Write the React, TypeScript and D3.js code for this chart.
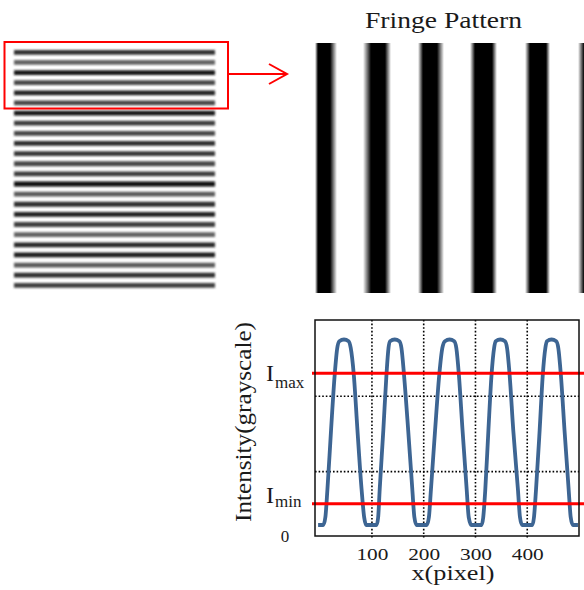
import React, { useEffect, useRef } from "react";
import * as d3 from "d3";

// left panel: grey level of each horizontal line (0 = black)
const lineGray = [50, 100, 25, 70, 35, 70, 25, 60, 70, 45, 55, 70, 60, 10, 90, 45, 35, 65, 100, 40, 30, 90, 45, 65];

// fringe pattern: bar edges in image pixels [fade-in start, core start, core end, fade-out end]
const fringeEdges = [
  [0, 3, 15, 22],
  [48, 56, 70, 76],
  [103, 108, 122, 129],
  [155, 160, 177, 182],
  [210, 215, 231, 235],
  [263, 269, 285, 291],
];

const xTicks = [100, 200, 300, 400];
const gridY = [76, 165];
const iMax = 192;
const iMin = 38;

// intensity profile along x (pixel, grayscale)
const profile: [number, number][] = [
  [-4, 13], [6, 13], [10, 22], [14, 55], [21, 125], [28, 190], [33, 222], [37, 230], [46, 232],
  [55, 230], [59, 222], [65, 190], [72, 125], [80, 55], [85, 22], [89, 13], [99, 13], [109, 13],
  [112, 22], [115, 55], [122, 125], [128, 190], [132, 222], [135, 230], [144, 232],
  [153, 230], [157, 222], [162, 190], [170, 125], [178, 55], [182, 22], [186, 13], [196, 13], [206, 13],
  [210, 22], [214, 55], [222, 125], [230, 190], [236, 222], [241, 230], [250, 232],
  [259, 230], [263, 222], [268, 190], [275, 125], [283, 55], [287, 22], [292, 13], [302, 13], [312, 13],
  [315, 22], [319, 55], [325, 125], [331, 190], [336, 222], [339, 230], [348, 232],
  [357, 230], [361, 222], [366, 190], [373, 125], [382, 55], [386, 22], [390, 13], [400, 13], [410, 13],
  [413, 22], [417, 55], [424, 125], [430, 190], [435, 222], [438, 230], [447, 232],
  [456, 230], [460, 222], [465, 190], [472, 125], [480, 55], [484, 22], [488, 13], [498, 13],
];

const FONT = "Liberation Serif, Times New Roman, Times, serif";

const App = () => {
  const ref = useRef<SVGSVGElement>(null);

  useEffect(() => {
    const svg = d3.select(ref.current);
    svg.selectAll("*").remove();
    const defs = svg.append("defs");

    defs
      .append("filter")
      .attr("id", "soft")
      .attr("x", "-5%")
      .attr("y", "-100%")
      .attr("width", "110%")
      .attr("height", "300%")
      .append("feGaussianBlur")
      .attr("stdDeviation", 0.9);

    // === LEFT: horizontal line pattern ===
    const lineY = d3.scaleLinear().domain([0, lineGray.length - 1]).range([52.3, 285.3]);
    svg
      .append("g")
      .attr("filter", "url(#soft)")
      .selectAll("line")
      .data(lineGray)
      .join("line")
      .attr("x1", 14)
      .attr("x2", 215)
      .attr("y1", (_, i) => lineY(i))
      .attr("y2", (_, i) => lineY(i))
      .attr("stroke", d => d3.rgb(d, d, d).toString())
      .attr("stroke-width", 4.8);

    svg
      .append("rect")
      .attr("x", 4.5)
      .attr("y", 42)
      .attr("width", 223.5)
      .attr("height", 66.5)
      .attr("fill", "none")
      .attr("stroke", "#ff0000")
      .attr("stroke-width", 2);

    svg
      .append("path")
      .attr("d", "M228,74H286.5M269,64L287,74L269,84")
      .attr("fill", "none")
      .attr("stroke", "#ff0000")
      .attr("stroke-width", 2);

    // === TOP RIGHT: fringe pattern ===
    const fx = d3.scaleLinear().domain([0, 270]).range([315, 585]);
    fringeEdges.forEach((e, i) => {
      const w = e[3] - e[0];
      const g = defs
        .append("linearGradient")
        .attr("id", `fr${i}`)
        .attr("x1", 0)
        .attr("x2", 1)
        .attr("y1", 0)
        .attr("y2", 0);
      [
        [0, 0],
        [(e[1] - e[0]) / w, 1],
        [(e[2] - e[0]) / w, 1],
        [1, 0],
      ].forEach(([o, a]) => g.append("stop").attr("offset", o).attr("stop-color", "#000").attr("stop-opacity", a));
    });
    svg
      .append("g")
      .selectAll("rect")
      .data(fringeEdges)
      .join("rect")
      .attr("x", d => fx(d[0]))
      .attr("width", d => fx(d[3]) - fx(d[0]))
      .attr("y", 43)
      .attr("height", 250)
      .attr("fill", (_, i) => `url(#fr${i})`);

    svg
      .append("text")
      .attr("x", 443.5)
      .attr("y", 28)
      .attr("text-anchor", "middle")
      .attr("font-family", FONT)
      .attr("font-size", 24)
      .attr("textLength", 157)
      .attr("lengthAdjust", "spacingAndGlyphs")
      .attr("fill", "#1a1a1a")
      .text("Fringe Pattern");

    // === BOTTOM RIGHT: intensity profile ===
    const x = d3.scaleLinear().domain([-10, 500]).range([315, 579]);
    const y = d3.scaleLinear().domain([0, 255]).range([536, 320]);

    const grid = svg
      .append("g")
      .attr("stroke", "#000")
      .attr("stroke-width", 1.6)
      .attr("stroke-dasharray", "1.6,2");
    grid
      .selectAll(".gx")
      .data(xTicks)
      .join("line")
      .attr("x1", d => x(d))
      .attr("x2", d => x(d))
      .attr("y1", 320)
      .attr("y2", 538);
    grid
      .selectAll(".gy")
      .data(gridY)
      .join("line")
      .attr("class", "gy")
      .attr("x1", 315)
      .attr("x2", 579)
      .attr("y1", d => y(d))
      .attr("y2", d => y(d));

    const line = d3
      .line<[number, number]>()
      .x(d => x(d[0]))
      .y(d => y(d[1]))
      .curve(d3.curveMonotoneX);
    svg
      .append("path")
      .datum(profile)
      .attr("d", line)
      .attr("fill", "none")
      .attr("stroke", "#3d6593")
      .attr("stroke-width", 3.8)
      .attr("stroke-linejoin", "round");

    svg
      .append("g")
      .selectAll("line")
      .data([iMax, iMin])
      .join("line")
      .attr("x1", 312)
      .attr("x2", 584)
      .attr("y1", d => y(d))
      .attr("y2", d => y(d))
      .attr("stroke", "#ff0000")
      .attr("stroke-width", 3);

    svg
      .append("rect")
      .attr("x", 315)
      .attr("y", 320)
      .attr("width", 264)
      .attr("height", 216)
      .attr("fill", "none")
      .attr("stroke", "#111")
      .attr("stroke-width", 1.5);

    // === X AXIS ===
    const xAxis = d3.axisBottom(x).tickValues(xTicks).tickSize(0).tickPadding(0);
    svg
      .append("g")
      .attr("transform", "translate(0,559.5)")
      .call(xAxis)
      .call(g => g.select(".domain").remove())
      .call(g =>
        g
          .selectAll("text")
          .attr("dy", 0)
          .attr("font-family", FONT)
          .attr("font-size", 17)
          .attr("textLength", 32)
          .attr("lengthAdjust", "spacingAndGlyphs")
          .attr("fill", "#1a1a1a")
      );

    svg
      .append("text")
      .attr("x", 453)
      .attr("y", 580)
      .attr("text-anchor", "middle")
      .attr("font-family", FONT)
      .attr("font-size", 20)
      .attr("textLength", 83)
      .attr("lengthAdjust", "spacingAndGlyphs")
      .attr("fill", "#1a1a1a")
      .text("x(pixel)");

    // === Y LABELS ===
    const ylab = svg.append("g").attr("font-family", FONT).attr("fill", "#1a1a1a");
    ylab
      .append("text")
      .attr("transform", "translate(251,422) rotate(-90)")
      .attr("text-anchor", "middle")
      .attr("font-size", 24)
      .attr("textLength", 200)
      .attr("lengthAdjust", "spacingAndGlyphs")
      .text("Intensity(grayscale)");

    const subLabels = [
      { v: iMax, sub: "max", dI: 8, dS: 15 },
      { v: iMin, sub: "min", dI: -1, dS: 3.5 },
    ];
    subLabels.forEach(s => {
      ylab.append("text").attr("x", 266).attr("y", y(s.v) + s.dI).attr("font-size", 24).text("I");
      ylab.append("text").attr("x", 275).attr("y", y(s.v) + s.dS).attr("font-size", 17).text(s.sub);
    });
    ylab
      .append("text")
      .attr("x", 285)
      .attr("y", y(0) + 6)
      .attr("text-anchor", "middle")
      .attr("font-size", 17)
      .text("0");
  }, []);

  return (
    <svg
      ref={ref}
      width={584}
      height={590}
      style={{ position: "absolute", left: 0, top: 0, background: "#fff" }}
    />
  );
};

export default App;
